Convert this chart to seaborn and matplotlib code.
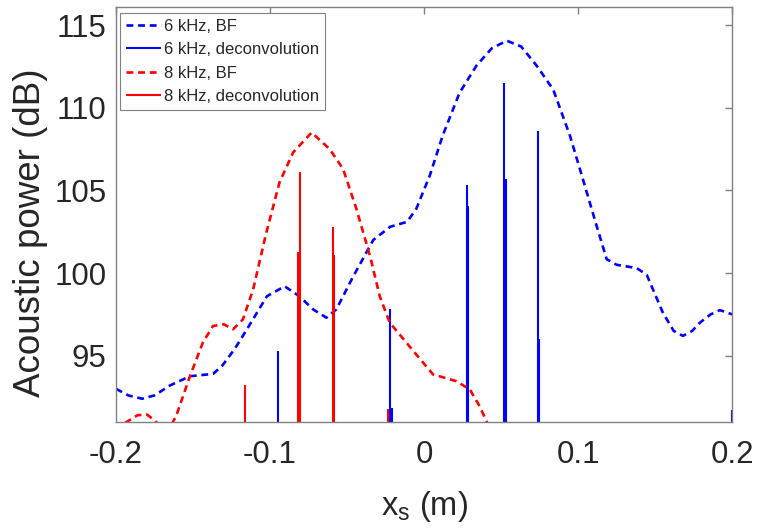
import matplotlib.pyplot as plt
import seaborn as sns
import pandas as pd

plt.switch_backend('Agg')

# 6 kHz, beamforming (BF) map
x_bf6 = [-0.200, -0.192, -0.183, -0.175, -0.165, -0.152, -0.137, -0.131, -0.123, -0.115,
         -0.102, -0.0905, -0.081, -0.072, -0.0634, -0.057, -0.046, -0.033, -0.022, -0.011,
         -0.005, 0.0037, 0.012, 0.023, 0.034, 0.044, 0.0537, 0.063, 0.073, 0.0838,
         0.0947, 0.103, 0.112, 0.1185, 0.125, 0.138, 0.1445, 0.155, 0.162, 0.168,
         0.174, 0.179, 0.186, 0.192, 0.200]
p_bf6 = [93.0, 92.6, 92.4, 92.6, 93.2, 93.76, 93.9, 94.4, 95.4, 96.6,
         98.6, 99.2, 98.6, 97.8, 97.3, 97.8, 99.8, 102.0, 102.8, 103.1,
         103.9, 105.9, 108.3, 110.9, 112.55, 113.6, 114.05, 113.7, 112.55, 111.1,
         108.3, 105.7, 102.85, 100.84, 100.5, 100.3, 99.9, 97.6, 96.5, 96.2,
         96.5, 97.0, 97.5, 97.76, 97.5]

# 8 kHz, beamforming (BF) map
x_bf8 = [-0.200, -0.193, -0.186, -0.180, -0.175, -0.170, -0.166, -0.161, -0.152, -0.1436,
         -0.137, -0.130, -0.124, -0.1176, -0.111, -0.1024, -0.0938, -0.085, -0.073, -0.0613,
         -0.0526, -0.044, -0.035, -0.0288, -0.0223, -0.0071, 0.0058, 0.021, 0.0297, 0.036,
         0.0405, 0.046]
p_bf8 = [90.5, 91.0, 91.4, 91.45, 91.1, 90.6, 90.5, 91.34, 93.76, 95.8,
         96.8, 96.9, 96.6, 97.2, 99.0, 102.45, 105.5, 107.3, 108.5, 107.5,
         106.3, 103.9, 101.0, 98.6, 97.0, 95.3, 93.87, 93.46, 92.96, 91.95,
         91.04, 90.0]

# deconvolution sources
x_dc6 = [-0.0949, -0.0223, -0.0210, 0.0279, 0.0288, 0.0521, 0.0530, 0.0739, 0.0748, 0.2]
p_dc6 = [95.3, 97.8, 91.85, 105.3, 104.07, 111.5, 105.7, 108.6, 96.0, 91.7]
x_dc8 = [-0.1165, -0.0808, -0.0816, -0.0591, -0.0582, -0.0234]
p_dc8 = [93.2, 106.13, 101.28, 102.76, 101.08, 91.75]

bf6 = pd.DataFrame({'x': x_bf6, 'p': p_bf6})
bf8 = pd.DataFrame({'x': x_bf8, 'p': p_bf8})

sns.set_style('white')
plt.rcParams['font.family'] = ['Liberation Sans', 'DejaVu Sans']

fig, ax = plt.subplots(figsize=(7.58, 5.28), dpi=100)
fig.subplots_adjust(left=0.153, right=0.966, bottom=0.201, top=0.987)

blue = '#0000ff'
red = '#ff0000'
dash = (2.6, 1.8)

sns.lineplot(data=bf6, x='x', y='p', ax=ax, color=blue, lw=1.9, sort=False,
             label='6 kHz, BF', dashes=False)
ax.lines[-1].set_dashes(dash)
ax.vlines(x_dc6, 80, p_dc6, color=blue, lw=1.5, label='6 kHz, deconvolution')
sns.lineplot(data=bf8, x='x', y='p', ax=ax, color=red, lw=1.9, sort=False,
             label='8 kHz, BF', dashes=False)
ax.lines[-1].set_dashes(dash)
ax.vlines(x_dc8, 80, p_dc8, color=red, lw=1.5, label='8 kHz, deconvolution')

ax.set_xlim(-0.2, 0.2)
ax.set_ylim(91, 116.1)
ax.set_xticks([-0.2, -0.1, 0, 0.1, 0.2])
ax.set_xticklabels(['-0.2', '-0.1', '0', '0.1', '0.2'])
ax.set_yticks([95, 100, 105, 110, 115])

gray = '#808080'
for s in ax.spines.values():
    s.set_visible(True)
    s.set_color(gray)
    s.set_linewidth(1.0)
ax.tick_params(direction='in', length=5, width=1, color=gray, labelcolor='#262626',
               labelsize=22.5, top=True, right=True, pad=7)
ax.tick_params(axis='x', pad=13)

ax.set_xlabel(r'x$_\mathregular{s}$ (m)', fontsize=23.5, color='#262626', labelpad=14)
ax.set_ylabel('Acoustic power (dB)', fontsize=26.5, color='#262626')
ax.yaxis.set_label_coords(-0.11, 0.455)

leg = ax.legend(loc='upper left', bbox_to_anchor=(0.007, 0.985), fontsize=12,
                frameon=True, fancybox=False, framealpha=1, edgecolor=gray,
                handlelength=2.1, handletextpad=0.2, borderpad=0.35,
                labelspacing=0.5, borderaxespad=0)
leg.get_frame().set_linewidth(0.8)

fig.savefig('out.png', dpi=100)
